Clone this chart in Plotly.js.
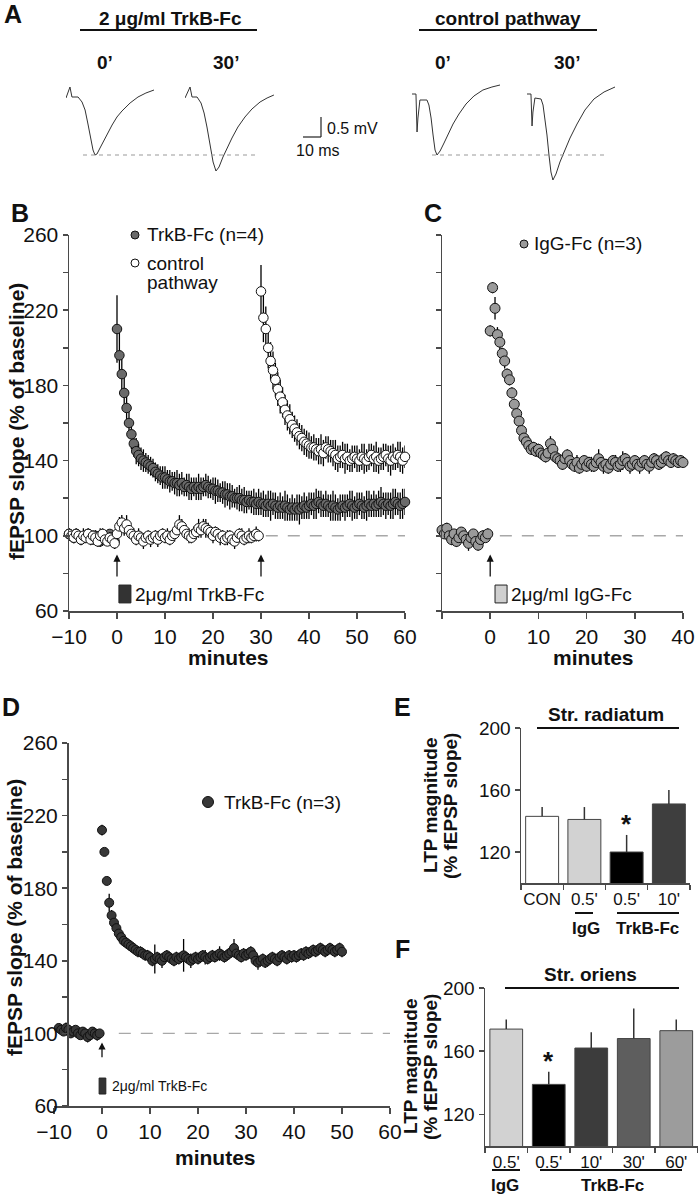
<!DOCTYPE html>
<html><head><meta charset="utf-8">
<script src="https://cdn.plot.ly/plotly-3.0.1.min.js"></script>
<style>html,body{margin:0;padding:0;background:#fff}#chart{width:698px;height:1199px}</style>
</head><body><div id="chart"></div>
<script>
const W=698,H=1199;
const FONT='Liberation Sans, Arial, Helvetica, sans-serif';

// ---------- Panel A waveforms (time in ms, voltage in mV relative to baseline)
const A_trkb0_t=[0,2.2,3.3,6.7,8.9,10.6,12.2,13.9,15.0,16.1,17.2,18.9,21.1,23.3,25.6,28.3,31.1,35.6,40.0,44.4,48.9];
const A_trkb0_v=[-0.025,0.25,0,0,-0.125,-0.325,-0.675,-1.075,-1.325,-1.45,-1.425,-1.275,-1.075,-0.875,-0.7,-0.5,-0.35,-0.15,0,0.1,0.175];
const A_trkb30_t=[0,2.8,3.9,6.7,8.9,10.6,12.2,13.9,15.6,17.2,18.9,21.1,23.3,26.1,29.4,33.3,37.2,41.7,45.6,49.4];
const A_trkb30_v=[-0.025,0.25,0,0,-0.15,-0.4,-0.75,-1.2,-1.625,-1.85,-1.75,-1.5,-1.275,-1.025,-0.75,-0.5,-0.3,-0.125,-0.025,0.05];
const A_ctrl0_t=[0,2.2,2.8,3.3,4.4,8.3,9.4,10.6,11.7,12.8,13.9,15.6,17.8,20,22.8,26.1,30,34.4,39.4,44.4,48.9];
const A_ctrl0_v=[0.075,0.075,-0.875,-0.525,-0.075,-0.075,-0.2,-0.525,-0.95,-1.325,-1.45,-1.35,-1.15,-0.925,-0.675,-0.425,-0.175,0.025,0.175,0.25,0.3];
const A_ctrl30_t=[0,2.2,2.8,3.3,4.4,7.8,8.9,10,11.1,12.2,13.3,14.4,16.1,18.3,21.1,23.9,27.8,32.2,37.2,42.8,48.9];
const A_ctrl30_v=[0.075,0.075,-0.725,-0.375,-0.025,-0.05,-0.2,-0.525,-0.95,-1.45,-1.875,-2.075,-1.925,-1.625,-1.325,-1.025,-0.675,-0.325,-0.05,0.125,0.25];

// ---------- Panel B (fEPSP slope, % of baseline; one value every 0.5 min from -10 min)
const B_start=-10, B_step=0.5;
const B_trkb=[101,100,99,101,100,98,99,100,101,99,98,100,99,97,98,100,99,101,98,97,
210,196,186,176,168,160,154,149,145,143,141,140,139,138,137,136,134,133,132,131,
131,130,129,129,128,128,127,128,126,127,126,125,126,125,126,125,126,127,126,125,
125,124,124,123,123,122,122,121,121,120,120,120,119,119,118,119,118,118,117,118,
117,117,116,117,116,117,116,115,116,115,116,115,114,115,114,115,114,115,116,115,
116,117,116,117,118,117,116,117,116,115,116,115,114,115,116,115,116,117,116,115,
116,117,116,115,116,117,116,117,116,117,118,117,116,117,116,117,118,117,116,117,118];
const B_trkb_err=[3,2,3,2,3,2,3,2,3,3,2,3,2,3,3,2,3,2,3,4,
18,12,10,9,9,8,8,7,7,6,6,6,5,5,5,5,5,5,5,6,
6,5,6,5,6,7,6,6,5,6,7,6,5,6,7,6,5,6,6,5,
6,7,6,5,6,7,6,7,6,5,6,7,6,7,6,5,6,7,6,7,
6,7,6,7,8,6,7,6,7,6,8,7,6,7,6,7,8,6,7,6,
7,6,7,8,6,7,6,7,6,7,8,7,6,7,6,7,6,7,8,6,
7,6,7,6,8,7,6,7,6,7,8,6,7,6,7,8,7,6,7,8,7];
const B_ctrl=[101,100,99,101,100,98,100,99,101,98,100,99,97,100,101,98,97,99,98,96,
101,105,107,104,106,103,101,100,98,100,99,97,99,100,98,99,100,98,100,101,
99,100,98,100,101,103,106,105,103,101,100,99,101,102,104,103,105,104,103,102,
100,102,101,99,100,98,99,100,98,97,99,101,100,98,99,100,99,100,101,100,
230,216,210,200,193,188,183,178,174,171,167,164,162,159,157,155,153,152,150,149,
148,147,147,146,145,146,144,147,146,145,144,143,141,142,143,141,142,140,141,142,
141,140,142,141,140,142,143,141,142,140,141,142,143,141,140,142,141,143,142,140,142];
const B_ctrl_err=[3,2,3,3,2,3,4,3,2,3,3,2,3,4,3,3,2,3,4,3,
4,5,4,4,5,4,3,4,3,4,3,4,3,3,4,3,3,4,3,3,
3,4,3,3,4,4,5,4,4,3,4,3,4,4,5,4,4,5,4,3,
4,3,3,4,3,3,4,3,3,4,3,3,4,3,3,4,3,3,4,3,
14,13,12,11,10,10,9,9,9,8,8,8,8,7,7,7,7,7,7,7,
7,6,7,6,7,8,7,6,7,6,7,8,7,6,7,8,7,6,7,6,
7,6,7,8,6,7,6,7,8,7,6,7,6,7,8,7,6,7,8,7,6];

// ---------- Panel C (IgG-Fc)
const C_start=-10, C_step=0.5;
const C_igg=[103,101,104,100,98,101,97,99,102,100,98,96,99,101,97,95,98,100,99,101,
209,232,221,207,203,197,193,186,183,176,170,165,161,156,152,150,148,146,147,145,
146,144,143,142,144,149,146,142,141,140,138,141,143,140,138,137,139,136,138,140,
137,139,138,137,139,141,139,137,138,136,138,140,139,137,138,140,141,139,137,138,
140,138,137,139,140,138,137,139,141,140,138,139,141,142,140,139,141,140,139,140,139];
const C_igg_err=[3,2,3,2,3,2,3,3,2,3,2,4,3,2,3,3,2,3,2,3,
3,3,6,4,4,3,4,3,3,3,3,3,3,3,3,3,3,3,3,3,
3,3,3,3,3,4,4,3,3,3,3,3,3,3,3,3,4,3,3,3,
3,3,4,3,3,5,3,4,3,3,3,3,4,3,4,5,3,3,4,3,
3,3,4,3,3,3,4,3,3,3,3,3,3,3,3,3,3,3,3,3,3];

// ---------- Panel D (TrkB-Fc, n=3)
const D_start=-9, D_step=0.5;
const D_trkb=[103,102,101,103,102,100,101,102,100,99,101,100,98,99,101,100,99,100,
212,200,184,172,165,161,158,155,153,151,150,149,148,147,146,145,145,144,143,143,
142,140,141,142,141,140,142,143,142,141,140,142,141,142,143,142,141,140,141,142,
141,142,143,142,141,142,143,142,143,144,143,142,143,144,145,147,144,143,142,144,
143,144,145,143,140,139,140,141,139,140,141,142,141,140,142,143,142,141,143,142,
143,142,143,144,143,145,144,145,146,145,146,147,146,145,146,147,146,145,146,147,145];
const D_trkb_err=[2,2,2,3,2,2,2,2,3,2,2,2,3,2,2,2,3,2,
3,2,2,5,3,3,3,2,3,3,3,2,3,3,2,3,3,3,3,3,
3,3,8,3,3,4,3,3,3,3,3,3,3,3,9,3,3,4,3,3,
3,3,3,4,3,3,3,3,3,4,3,3,3,3,3,5,3,3,3,3,
3,3,3,3,3,4,3,3,3,3,3,3,3,3,3,3,3,3,3,3,
3,3,3,3,3,3,3,3,3,3,3,3,3,3,3,3,3,3,3,3,3];

// ---------- Panel E (Str. radiatum)
const E_labels=["CON","0.5'","0.5'","10'"];
const E_values=[143,141,120,151];
const E_err=[6,8,11,9];
const E_colors=['#ffffff','#d2d2d2','#000000','#3e3e3e'];

// ---------- Panel F (Str. oriens)
const F_labels=["0.5'","0.5'","10'","30'","60'"];
const F_values=[174,139,162,168,173];
const F_err=[6,8,10,19,7];
const F_colors=['#d2d2d2','#000000','#3c3c3c','#5e5e5e','#9c9c9c'];

function grid(t0,step,n){const a=[];for(let i=0;i<n;i++)a.push(+(t0+i*step).toFixed(2));return a;}
const px=x=>x/W, py=y=>1-y/H;
const idx=n=>Array.from({length:n},(_,i)=>i);

const traces=[];
function wave(t,v,xa){traces.push({x:t,y:v,xaxis:xa,yaxis:'y6',type:'scatter',mode:'lines',line:{color:'#333',width:1},hoverinfo:'skip',showlegend:false});}
wave(A_trkb0_t,A_trkb0_v,'x6');
wave(A_trkb30_t,A_trkb30_v,'x7');
wave(A_ctrl0_t,A_ctrl0_v,'x8');
wave(A_ctrl30_t,A_ctrl30_v,'x9');

function pts(vals,err,t0,step,xa,ya,fill,size){
  traces.push({x:grid(t0,step,vals.length),y:vals,xaxis:xa,yaxis:ya,type:'scatter',mode:'markers',cliponaxis:false,
    marker:{size:size,color:fill,line:{color:'#111',width:1}},
    error_y:{type:'data',array:err,visible:true,width:0,thickness:1.3,color:'#000'},showlegend:false,hoverinfo:'skip'});
}
pts(B_trkb,B_trkb_err,B_start,B_step,'x','y','#6a6a6a',9.5);
pts(B_ctrl,B_ctrl_err,B_start,B_step,'x','y','#ffffff',9.5);
pts(C_igg,C_igg_err,C_start,C_step,'x2','y2','#9a9a9a',10);
pts(D_trkb,D_trkb_err,D_start,D_step,'x3','y3','#383838',9);

traces.push({type:'bar',x:idx(E_values.length),y:E_values,xaxis:'x4',yaxis:'y4',width:0.78,
  marker:{color:E_colors,line:{color:'#444',width:1}},
  error_y:{type:'data',symmetric:false,array:E_err,arrayminus:E_values.map(()=>0),width:0,thickness:1.5,color:'#333'},showlegend:false,hoverinfo:'skip'});
traces.push({type:'bar',x:idx(F_values.length),y:F_values,xaxis:'x5',yaxis:'y5',width:0.77,
  marker:{color:F_colors,line:{color:'#444',width:1}},
  error_y:{type:'data',symmetric:false,array:F_err,arrayminus:F_values.map(()=>0),width:0,thickness:1.5,color:'#333'},showlegend:false,hoverinfo:'skip'});

const AXC='#4a4a4a';
const base={showgrid:false,zeroline:false,showline:true,linecolor:AXC,linewidth:1.5,ticks:'outside',tickcolor:AXC,tickwidth:1.5,fixedrange:true,tickfont:{family:FONT,size:21,color:'#111'}};
const yTicks=[60,80,100,120,140,160,180,200,220,240,260];
const yText=yTicks.map(v=>((v-60)%40===0)?String(v):'');
const hidden={visible:false,fixedrange:true,showgrid:false,zeroline:false};

const layout={
  width:W,height:H,margin:{l:0,r:0,t:0,b:0},paper_bgcolor:'#fff',plot_bgcolor:'rgba(0,0,0,0)',
  font:{family:FONT,color:'#111'},showlegend:false,
  xaxis:{...base,domain:[px(69),px(405)],range:[-10,60],tickvals:[-10,0,10,20,30,40,50,60],ticklen:6,anchor:'y'},
  yaxis:{...base,domain:[py(611),py(235)],range:[60,260],tickvals:yTicks,ticktext:yText,ticklen:5,anchor:'x'},
  xaxis2:{...base,domain:[px(442),px(683)],range:[-10,40],tickvals:[-10,0,10,20,30,40],ticktext:['','0','10','20','30','40'],ticklen:6,anchor:'y2'},
  yaxis2:{...base,domain:[py(611),py(235)],range:[60,260],tickvals:yTicks,showticklabels:false,ticklen:5,anchor:'x2'},
  xaxis3:{...base,domain:[px(54),px(390)],range:[-10,60],tickvals:[-10,0,10,20,30,40,50,60],ticklen:6,anchor:'y3'},
  yaxis3:{...base,domain:[py(1106),py(743)],range:[60,260],tickvals:yTicks,ticktext:yText,ticklen:5,anchor:'free',position:px(67)},
  xaxis4:{...base,domain:[px(521),px(690)],range:[-0.5,3.5],tickvals:idx(E_labels.length),ticktext:E_labels,ticks:'',ticklen:0,tickfont:{family:FONT,size:17,color:'#111'},
    minor:{tickvals:[-0.5,0.5,1.5,2.5,3.5],ticks:'outside',ticklen:5,tickcolor:AXC,tickwidth:1.2},anchor:'y4'},
  yaxis4:{...base,domain:[py(883),py(728)],range:[100,200],tickvals:[120,160,200],ticklen:5,tickfont:{family:FONT,size:19,color:'#111'},anchor:'x4'},
  xaxis5:{...base,domain:[px(485),px(697.5)],range:[-0.5,4.5],tickvals:idx(F_labels.length),ticktext:F_labels,ticks:'',ticklen:0,tickfont:{family:FONT,size:17,color:'#111'},
    minor:{tickvals:[-0.5,0.5,1.5,2.5,3.5,4.5],ticks:'outside',ticklen:5,tickcolor:AXC,tickwidth:1.2},anchor:'y5'},
  yaxis5:{...base,domain:[py(1146),py(988)],range:[100,200],tickvals:[120,160,200],ticklen:5,tickfont:{family:FONT,size:19,color:'#111'},anchor:'x5'},
  yaxis6:{...hidden,domain:[py(185),py(80)],range:[-2.2,0.425],anchor:'x6'},
  xaxis6:{...hidden,domain:[px(66),px(166)],range:[0,55.56],anchor:'y6'},
  xaxis7:{...hidden,domain:[px(185),px(285)],range:[0,55.56],anchor:'y6'},
  xaxis8:{...hidden,domain:[px(412),px(512)],range:[0,55.56],anchor:'y6'},
  xaxis9:{...hidden,domain:[px(527),px(627)],range:[0,55.56],anchor:'y6'},
  annotations:[],shapes:[]
};

const A=layout.annotations, S=layout.shapes;
function txt(text,x,y,size,o){A.push(Object.assign({text:text,x:px(x),y:py(y),xref:'paper',yref:'paper',showarrow:false,
  font:{family:FONT,size:size,color:'#111'},xanchor:'center',yanchor:'middle'},o||{}));}
function lineP(x0,y0,x1,y1,color,width,dash){S.push({type:'line',xref:'paper',yref:'paper',x0:px(x0),y0:py(y0),x1:px(x1),y1:py(y1),line:{color:color,width:width,dash:dash||'solid'}});}
function dot(cx,cy,r,fill){S.push({type:'circle',xref:'paper',yref:'paper',x0:px(cx-r),x1:px(cx+r),y0:py(cy+r),y1:py(cy-r),fillcolor:fill,line:{color:'#111',width:1}});}
function arrow(xa,ya,x,tip,tail){A.push({xref:xa,yref:ya,axref:xa,ayref:ya,x:x,y:tip,ax:x,ay:tail,text:'',showarrow:true,arrowhead:2,arrowsize:1.1,arrowwidth:1.3,arrowcolor:'#111'});}
function dataText(xa,ya,x,y,text,size){A.push({xref:xa,yref:ya,x:x,y:y,text:text,showarrow:false,xanchor:'left',yanchor:'middle',font:{family:FONT,size:size,color:'#111'}});}
function dataRect(xa,ya,x0,x1,y0,y1,fill){S.push({type:'rect',xref:xa,yref:ya,x0:x0,x1:x1,y0:y0,y1:y1,fillcolor:fill,line:{color:'#222',width:1}});}
function dashed(xa,ya,x0,x1,y){S.push({type:'line',xref:xa,yref:ya,x0:x0,x1:x1,y0:y,y1:y,line:{color:'#a8a8a8',width:1.4,dash:'12px,10px'}});}

// Panel letters
txt('<b>A</b>',13,14,25); txt('<b>B</b>',20,213,25); txt('<b>C</b>',433,213,25);
txt('<b>D</b>',11,707,25); txt('<b>E</b>',403,707,25); txt('<b>F</b>',403,949,25);

// Panel A
txt('<b>2 \u03bcg/ml TrkB-Fc</b>',170,19,19); lineP(80,30,257,30,'#111',2);
txt('<b>control pathway</b>',508,19,19); lineP(419,30,597,30,'#111',2);
txt('<b>0\u2019</b>',105,63,19); txt('<b>30\u2019</b>',226,63,19);
txt('<b>0\u2019</b>',443,63,19); txt('<b>30\u2019</b>',567,63,19);
lineP(83,155,257,155,'#9a9a9a',1.2,'4px,4px'); lineP(432,155,604,155,'#9a9a9a',1.2,'4px,4px');
lineP(321,117,321,137,'#222',1.2); lineP(303,137,321,137,'#222',1.2);
txt('0.5 mV',325,128,16,{xanchor:'left'}); txt('10 ms',318,150,16);

// Panel B
txt('<b>fEPSP slope (% of baseline)</b>',16,422,21,{textangle:-90});
txt('<b>minutes</b>',228,657,21);
dot(135,235,4,'#6a6a6a'); txt('TrkB-Fc (n=4)',145,235,19,{xanchor:'left'});
dot(135,263,4,'#ffffff'); txt('control',145,263,19,{xanchor:'left'}); txt('pathway',145,282,19,{xanchor:'left'});
dashed('x','y',31,60,100);
arrow('x','y',0,90,77.5); arrow('x','y',30,90,77.5);
dataRect('x','y',0.4,2.9,64.3,73.8,'#333333'); dataText('x','y',3.3,69,'2\u03bcg/ml TrkB-Fc',19);

// Panel C
txt('<b>minutes</b>',593,657,21);
dot(524,244,4,'#9a9a9a'); txt('IgG-Fc (n=3)',532,244,19,{xanchor:'left'});
dashed('x2','y2',2,40,100);
arrow('x2','y2',0,90,77.5);
dataRect('x2','y2',1.0,3.5,64.3,73.8,'#cfcfcf'); dataText('x2','y2',3.9,69,'2\u03bcg/ml IgG-Fc',19);

// Panel D
txt('<b>fEPSP slope (% of baseline)</b>',14,918,21,{textangle:-90});
txt('<b>minutes</b>',215,1157,21);
dot(208,802,5.5,'#383838'); txt('TrkB-Fc (n=3)',222,802,19,{xanchor:'left'});
dashed('x3','y3',3.5,60,100);
arrow('x3','y3',0,95,86);
dataRect('x3','y3',-0.6,0.8,66.6,75.4,'#333333'); dataText('x3','y3',1.7,71,'2\u03bcg/ml TrkB-Fc',14);

// Panel E
txt('<b>LTP magnitude</b>',430,806,19,{textangle:-90}); txt('<b>(% fEPSP slope)</b>',450,806,19,{textangle:-90});
txt('<b>Str. radiatum</b>',606,714,19); lineP(537,728,679,728,'#111',2);
lineP(575,913,593,913,'#111',2); txt('<b>IgG</b>',586,928,17);
lineP(617,913,679,913,'#111',2); txt('<b>TrkB-Fc</b>',647,928,17);
A.push({xref:'x4',yref:'y4',x:2,y:E_values[2]+E_err[2],text:'<b>*</b>',showarrow:false,yanchor:'bottom',yshift:-6,font:{family:FONT,size:26,color:'#111'}});

// Panel F
txt('<b>LTP magnitude</b>',410,1067,19,{textangle:-90}); txt('<b>(% fEPSP slope)</b>',430,1067,19,{textangle:-90});
txt('<b>Str. oriens</b>',590,974,19); lineP(505,988,679,988,'#111',2);
lineP(492,1170,520,1170,'#111',2); txt('<b>IgG</b>',505,1185,17);
lineP(540,1170,682,1170,'#111',2); txt('<b>TrkB-Fc</b>',612,1185,17);
A.push({xref:'x5',yref:'y5',x:1,y:F_values[1]+F_err[1],text:'<b>*</b>',showarrow:false,yanchor:'bottom',yshift:-6,font:{family:FONT,size:26,color:'#111'}});

Plotly.newPlot('chart',traces,layout,{staticPlot:true,displayModeBar:false});
</script></body></html>
